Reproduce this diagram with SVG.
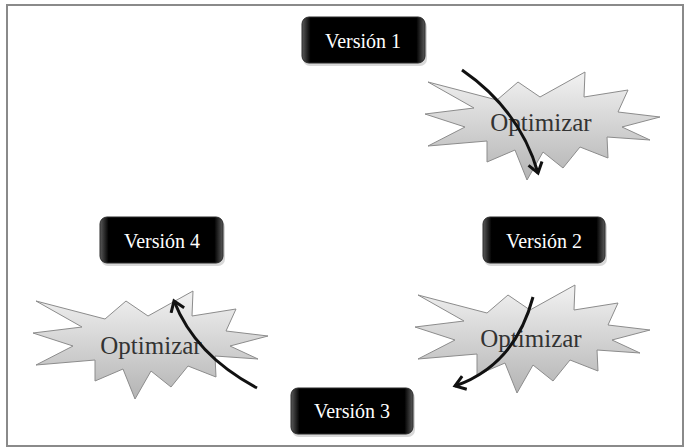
<svg xmlns="http://www.w3.org/2000/svg" xmlns:xlink="http://www.w3.org/1999/xlink" width="685" height="448" viewBox="0 0 685 448">
  <style>
    .frame { fill: #ffffff; stroke: #8a8a8a; stroke-width: 2; }
    .box { fill: url(#boxGrad); stroke: #2a2a2a; stroke-width: 1; }
    .boxshadow { fill: #d8d8d8; }
    .vlabel { font-family: "Liberation Serif", "Times New Roman", serif; font-size: 20px; fill: #ffffff; text-anchor: middle; }
    .burst { fill: url(#burstGrad); stroke: #8c8c8c; stroke-width: 1; }
    .olabel { font-family: "Liberation Serif", "Times New Roman", serif; font-size: 25px; fill: #333333; text-anchor: middle; }
    .arrow { fill: none; stroke: #111111; stroke-width: 3; marker-end: url(#head); }
  </style>
  <defs>
    <linearGradient id="boxGrad" x1="0" y1="0" x2="1" y2="0">
      <stop offset="0" stop-color="#5a5a5a"/>
      <stop offset="0.07" stop-color="#000000"/>
      <stop offset="0.93" stop-color="#000000"/>
      <stop offset="1" stop-color="#5a5a5a"/>
    </linearGradient>
    <linearGradient id="burstGrad" x1="0" y1="0" x2="0" y2="1">
      <stop offset="0" stop-color="#f2f2f2"/>
      <stop offset="1" stop-color="#b4b4b4"/>
    </linearGradient>
    <path id="burst" d="M428,82 L497,100 L518,82 L540,97 L585,72 L584,97 L628,90 L618,112 L660,117 L622,127 L650,140 L607,137 L608,158 L580,147 L563,168 L543,152 L527,180 L515,150 L487,162 L487,141 L428,146 L465,127 L425,114 L474,108 Z"/>
    <marker id="head" markerUnits="userSpaceOnUse" markerWidth="20" markerHeight="20" refX="11" refY="8" orient="auto" viewBox="0 0 20 16">
      <path d="M1,1 L11,8 L1,15" fill="none" stroke="#111111" stroke-width="3" stroke-linejoin="miter"/>
    </marker>
  </defs>

  <rect class="frame" x="7" y="5" width="676" height="441"/>

  <g id="optimizar1">
    <use xlink:href="#burst" class="burst"/>
    <text class="olabel" x="541" y="131">Optimizar</text>
  </g>
  <g id="optimizar2">
    <use xlink:href="#burst" class="burst" transform="translate(-10,213)"/>
    <text class="olabel" x="531" y="347">Optimizar</text>
  </g>
  <g id="optimizar3">
    <use xlink:href="#burst" class="burst" transform="translate(-392,219)"/>
    <text class="olabel" x="151" y="354">Optimizar</text>
  </g>

  <g id="connectors">
    <path class="arrow" d="M462,70 Q520,110 538,173"/>
    <path class="arrow" d="M533,297 Q515,365 455,386"/>
    <path class="arrow" d="M257,388 Q195,355 174,301"/>
  </g>

  <g id="version1">
    <rect class="boxshadow" x="303" y="20" width="124" height="46" rx="7"/>
    <rect class="box" x="302" y="17" width="123" height="46" rx="7"/>
    <text class="vlabel" x="363" y="48">Versión 1</text>
  </g>
  <g id="version2">
    <rect class="boxshadow" x="484" y="220" width="123" height="46" rx="7"/>
    <rect class="box" x="483" y="217" width="122" height="46" rx="7"/>
    <text class="vlabel" x="544" y="248">Versión 2</text>
  </g>
  <g id="version3">
    <rect class="boxshadow" x="292" y="391" width="123" height="46" rx="7"/>
    <rect class="box" x="291" y="388" width="122" height="46" rx="7"/>
    <text class="vlabel" x="352" y="418">Versión 3</text>
  </g>
  <g id="version4">
    <rect class="boxshadow" x="101" y="220" width="124" height="46" rx="7"/>
    <rect class="box" x="100" y="217" width="123" height="46" rx="7"/>
    <text class="vlabel" x="162" y="248">Versión 4</text>
  </g>
</svg>
